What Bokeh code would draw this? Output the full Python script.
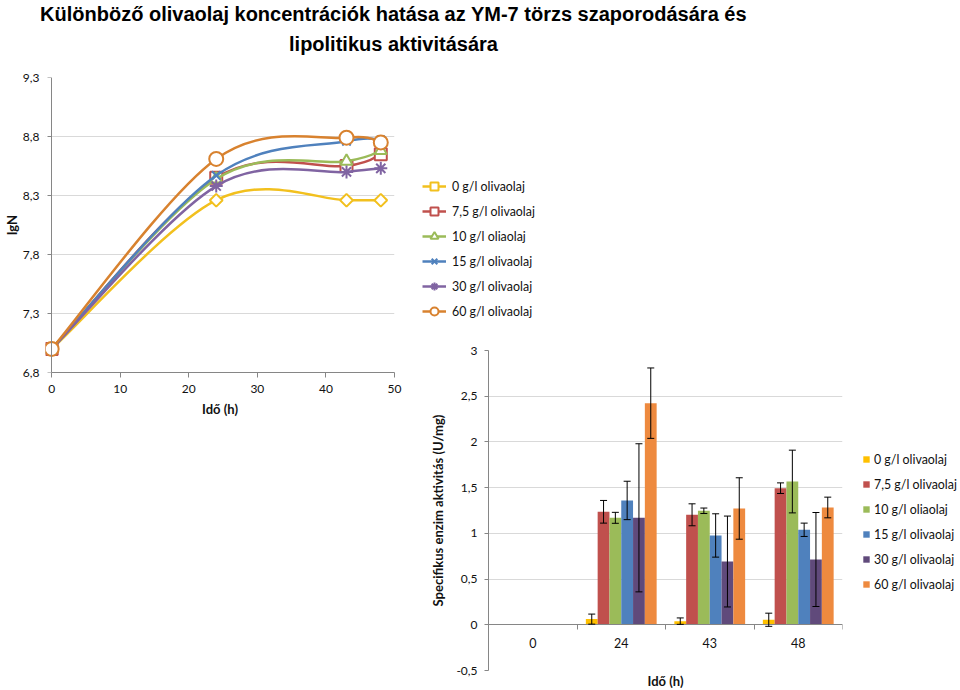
import math
import numpy as np
from bokeh.plotting import figure
from bokeh.layouts import row, column
from bokeh.models import (Range1d, FixedTicker, CustomJSTickFormatter, Legend, LegendItem, Plot,
                          ColumnDataSource, Whisker, TeeHead, LinearAxis, Label, Title, BoxAnnotation)
from bokeh.transform import dodge
from bokeh.embed import file_html
from bokeh.resources import INLINE

# ---------------- data ----------------
title_line1 = "Különböző olivaolaj koncentrációk hatása az YM-7 törzs szaporodására és"
title_line2 = "lipolitikus aktivitására"

series_labels = ["0 g/l olivaolaj", "7,5 g/l olivaolaj", "10 g/l oliaolaj",
                 "15 g/l olivaolaj", "30 g/l olivaolaj", "60 g/l olivaolaj"]

time_h = [0, 24, 43, 48]
lgn_0 = [7.0, 8.26, 8.26, 8.26]
lgn_75 = [7.0, 8.45, 8.55, 8.65]
lgn_10 = [7.0, 8.44, 8.59, 8.68]
lgn_15 = [7.0, 8.47, 8.76, 8.77]
lgn_30 = [7.0, 8.38, 8.50, 8.53]
lgn_60 = [7.0, 8.61, 8.79, 8.75]
lgn_series = [lgn_0, lgn_75, lgn_10, lgn_15, lgn_30, lgn_60]

lgn_ticks = [6.8, 7.3, 7.8, 8.3, 8.8, 9.3]
time_ticks = [0, 10, 20, 30, 40, 50]

bar_categories = ["0", "24", "43", "48"]
act_0 = [0, 0.062, 0.040, 0.055]
act_75 = [0, 1.236, 1.203, 1.494]
act_10 = [0, 1.170, 1.247, 1.567]
act_15 = [0, 1.360, 0.977, 1.039]
act_30 = [0, 1.170, 0.692, 0.714]
act_60 = [0, 2.424, 1.272, 1.283]
err_0 = [0, 0.055, 0.035, 0.072]
err_75 = [0, 0.124, 0.120, 0.058]
err_10 = [0, 0.060, 0.030, 0.343]
err_15 = [0, 0.210, 0.237, 0.073]
err_30 = [0, 0.810, 0.497, 0.514]
err_60 = [0, 0.385, 0.336, 0.113]
act_series = [act_0, act_75, act_10, act_15, act_30, act_60]
err_series = [err_0, err_75, err_10, err_15, err_30, err_60]
act_ticks = [-0.5, 0, 0.5, 1, 1.5, 2, 2.5, 3]

# ---------------- styles ----------------
FONT = "Lato"
TXT = "#111111"
AX = "#868686"
GRID = "#D9D9D9"
LEG_SIZE = "12.4px"
line_colors = ["#F2C01E", "#C0504D", "#9BBB59", "#4F81BD", "#8064A2", "#D8822F"]
bar_colors = ["#FFC000", "#C0504D", "#9BBB59", "#4F81BD", "#604A7B", "#EE8A3F"]
markers = [("square", 9, math.pi / 4), ("square", 12, 0), ("triangle", 12, 0),
           ("x", 12, 0), ("asterisk", 13, 0), ("circle", 14, 0)]

lgn_fmt = CustomJSTickFormatter(code="return tick.toFixed(1).replace('.', ',');")
act_fmt = CustomJSTickFormatter(code="return (Math.round(tick*10)/10).toString().replace('.', ',');")
no_labels = CustomJSTickFormatter(code="return '';")

HAS_FRAME_ALIGN = "frame_align" in Plot.properties()


def fig(**kw):
    f = figure(toolbar_location=None, output_backend="svg", **kw)
    f.outline_line_color = None
    if HAS_FRAME_ALIGN:
        f.frame_align = False
    return f


def smooth_segments(xs, ys):
    """Excel-like smoothed line: cubic Bezier segments (Catmull-Rom, tension 1/6)."""
    px = [xs[0]] + list(xs) + [xs[-1]]
    py = [ys[0]] + list(ys) + [ys[-1]]
    seg = dict(x0=[], y0=[], x1=[], y1=[], cx0=[], cy0=[], cx1=[], cy1=[])
    for i in range(len(xs) - 1):
        seg["x0"].append(px[i + 1]); seg["y0"].append(py[i + 1])
        seg["x1"].append(px[i + 2]); seg["y1"].append(py[i + 2])
        seg["cx0"].append(px[i + 1] + (px[i + 2] - px[i]) / 6)
        seg["cy0"].append(py[i + 1] + (py[i + 2] - py[i]) / 6)
        seg["cx1"].append(px[i + 2] - (px[i + 3] - px[i + 1]) / 6)
        seg["cy1"].append(py[i + 2] - (py[i + 3] - py[i + 1]) / 6)
    return seg


def style_axis(ax, label_size="12px"):
    ax.axis_line_color = AX
    ax.major_tick_line_color = AX
    ax.minor_tick_line_color = None
    ax.major_tick_in = 0
    ax.major_label_text_font = FONT
    ax.major_label_text_font_size = label_size
    ax.major_label_text_color = TXT
    ax.axis_label_text_font = FONT
    ax.axis_label_text_font_size = "13px"
    ax.axis_label_text_font_style = "bold"
    ax.axis_label_text_color = TXT


def blank_fig(width, height, **kw):
    f = fig(width=width, height=height, x_range=Range1d(0, 1), y_range=Range1d(0, 1),
            x_axis_location=None, y_axis_location=None, min_border=0, **kw)
    f.grid.visible = False
    return f


# ---------------- title ----------------
tf = blank_fig(960, 60)
for txt, yy in [(title_line1, 47), (title_line2, 17)]:
    tf.add_layout(Label(x=393, y=yy, x_units="screen", y_units="screen", text=txt,
                        text_align="center", text_baseline="alphabetic",
                        text_font="Liberation Sans", text_font_style="bold",
                        text_font_size="20px", text_color="black"))

# ---------------- line chart ----------------
lp = fig(width=420, height=628, x_range=Range1d(-0.9, 50), y_range=Range1d(6.8, 9.3),
         min_border_left=44, min_border_right=26, min_border_top=17, min_border_bottom=316)
lp.xgrid.visible = False
lp.ygrid.ticker = FixedTicker(ticks=lgn_ticks)
lp.ygrid.grid_line_color = GRID

xa = lp.xaxis[0]
style_axis(xa)
xa.ticker = FixedTicker(ticks=time_ticks)
xa.bounds = (0, 50)
xa.major_tick_out = 5
xa.major_label_standoff = 7
xa.axis_label = "Idő (h)"
xa.axis_label_standoff = 5

# labels of the y axis (its line and ticks are drawn by the axis fixed at x = 0)
ya = lp.yaxis[0]
style_axis(ya)
ya.ticker = FixedTicker(ticks=lgn_ticks)
ya.formatter = lgn_fmt
ya.axis_line_color = None
ya.major_tick_line_color = None
ya.major_tick_out = 0
ya.major_label_standoff = 6
ya.axis_label = "lgN"
ya.axis_label_standoff = 0

y_rule = LinearAxis(fixed_location=0, bounds=(6.8, 9.3), ticker=FixedTicker(ticks=lgn_ticks),
                    formatter=no_labels)
style_axis(y_rule)
y_rule.major_tick_out = 4
lp.add_layout(y_rule, "left")

lp.add_layout(BoxAnnotation(right=0, fill_color="white", fill_alpha=1, line_color=None, level="underlay"))

for ys, col, (mk, sz, ang) in zip(lgn_series, line_colors, markers):
    lp.bezier(source=ColumnDataSource(smooth_segments(time_h, ys)),
              x0="x0", y0="y0", x1="x1", y1="y1", cx0="cx0", cy0="cy0", cx1="cx1", cy1="cy1",
              line_color=col, line_width=2.5)
    lp.scatter(x=time_h, y=ys, marker=mk, size=sz, angle=ang, line_color=col,
               fill_color="white", line_width=2)

# ---------------- line chart legend ----------------
lf = blank_fig(540, 280)
litems = []
for lab, col, (mk, sz, ang) in zip(series_labels, line_colors, markers):
    src = ColumnDataSource(dict(x=[np.nan], y=[np.nan]))
    r1 = lf.line("x", "y", source=src, line_color=col, line_width=2.5)
    r2 = lf.scatter("x", "y", source=src, marker=mk, size=sz, angle=ang, line_color=col,
                    fill_color="white", line_width=2)
    litems.append(LegendItem(label=lab, renderers=[r1, r2]))
lf.add_layout(Legend(items=litems, location=(2, 19), glyph_width=24, glyph_height=20,
                     label_height=20, spacing=5, padding=0, margin=0, label_standoff=6,
                     label_text_font=FONT, label_text_font_size=LEG_SIZE, label_text_color=TXT,
                     border_line_color=None, background_fill_alpha=0))

# ---------------- bar chart ----------------
ncat = len(bar_categories)
cat_pos = [i + 0.5 for i in range(ncat)]          # centre of each category slot
bp = fig(width=430, height=348, x_range=Range1d(0, ncat), y_range=Range1d(-0.5, 3),
         min_border_left=68, min_border_right=8, min_border_top=10, min_border_bottom=18)
bp.xgrid.visible = False
bp.ygrid.ticker = FixedTicker(ticks=act_ticks)
bp.ygrid.grid_line_color = GRID

bya = bp.yaxis[0]
style_axis(bya)
bya.ticker = FixedTicker(ticks=act_ticks)
bya.formatter = act_fmt
bya.major_tick_out = 4
bya.major_label_standoff = 7
bya.axis_label = "Specifikus enzim aktivitás (U/mg)"
bya.axis_label_standoff = 7

# category label axis (labels at slot centres, no ticks / line)
bxa = bp.xaxis[0]
style_axis(bxa, "12.5px")
bxa.fixed_location = 0
bxa.ticker = FixedTicker(ticks=cat_pos)
bxa.formatter = CustomJSTickFormatter(args=dict(cats=bar_categories),
                                      code="return cats[Math.floor(tick)];")
bxa.axis_line_color = None
bxa.major_tick_line_color = None
bxa.major_tick_out = 0
bxa.major_label_standoff = 13

# separator axis (line at 0 with ticks between categories)
sep_axis = LinearAxis(fixed_location=0, ticker=FixedTicker(ticks=list(range(ncat + 1))),
                      formatter=no_labels)
style_axis(sep_axis)
sep_axis.major_tick_out = 5
bp.add_layout(sep_axis, "below")
bp.add_layout(Title(text="Idő (h)", align="center", text_font=FONT, text_font_size="13px",
                    text_font_style="bold", text_color=TXT, standoff=0, offset=0), "below")

n = len(act_series)
bar_w = 1 / (n + 1.5)
offsets = [(i - (n - 1) / 2) * bar_w for i in range(n)]
for vals, errs, col, off in zip(act_series, err_series, bar_colors, offsets):
    src = ColumnDataSource(dict(pos=cat_pos, val=vals))
    bp.vbar(x=dodge("pos", off), top="val", bottom=0, width=bar_w,
            source=src, fill_color=col, line_color=None)
    keep = [i for i, e in enumerate(errs) if e > 0]
    wsrc = ColumnDataSource(dict(pos=[cat_pos[i] for i in keep],
                                 upper=[vals[i] + errs[i] for i in keep],
                                 lower=[vals[i] - errs[i] for i in keep]))
    bp.add_layout(Whisker(source=wsrc, base=dodge("pos", off),
                          upper="upper", lower="lower", level="annotation",
                          line_color="black", line_width=1,
                          upper_head=TeeHead(size=7, line_color="black", line_width=1),
                          lower_head=TeeHead(size=7, line_color="black", line_width=1)))

# ---------------- bar chart legend ----------------
blf = blank_fig(110, 348, min_border_top=10, min_border_bottom=18)
bitems = []
for lab, col in zip(series_labels, bar_colors):
    dsrc = ColumnDataSource(dict(x=[np.nan], y=[np.nan]))
    rd = blf.scatter("x", "y", source=dsrc, marker="square", size=7, fill_color=col, line_color=None)
    bitems.append(LegendItem(label=lab, renderers=[rd]))
blf.add_layout(Legend(items=bitems, location=(8, 76), glyph_width=16, glyph_height=20,
                      label_height=20, spacing=5, padding=0, margin=0, label_standoff=0,
                      label_text_font=FONT, label_text_font_size=LEG_SIZE, label_text_color=TXT,
                      border_line_color=None, background_fill_alpha=0))

layout = column(tf, row(lp, column(lf, row(bp, blf))))
open("out.html", "w").write(file_html(layout, INLINE))
